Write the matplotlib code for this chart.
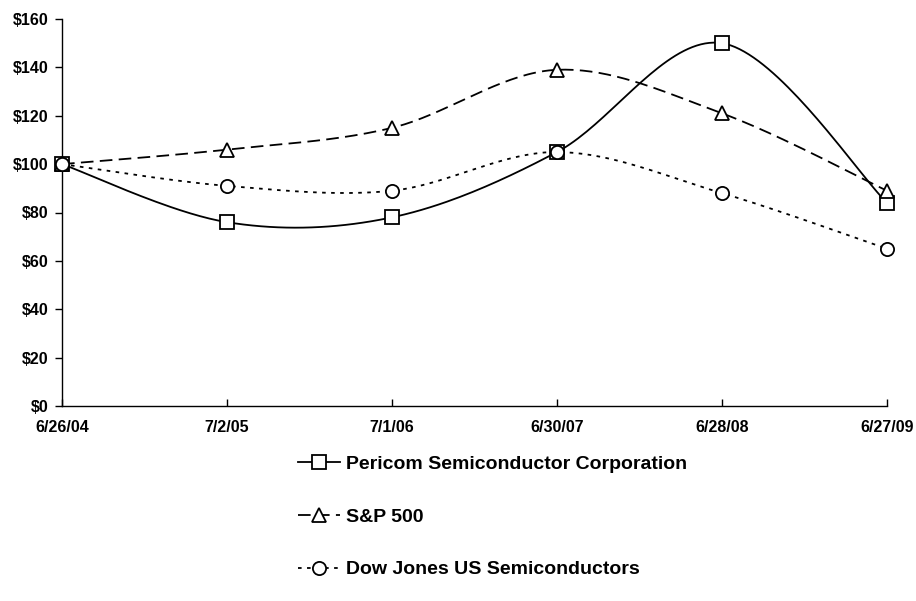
import numpy as np
import matplotlib
matplotlib.use('Agg')
import matplotlib.pyplot as plt

plt.rcParams['font.family'] = ['Liberation Sans', 'DejaVu Sans']
plt.rcParams['font.weight'] = 'bold'

dates = ['6/26/04', '7/2/05', '7/1/06', '6/30/07', '6/28/08', '6/27/09']
pericom = [100, 76, 78, 105, 150, 84]
sp500 = [100, 106, 115, 139, 121, 89]
dow_semi = [100, 91, 89, 105, 88, 65]

labels = ['Pericom Semiconductor Corporation', 'S&P 500', 'Dow Jones US Semiconductors']


def smooth(xs, ys, n=40):
    # Excel-like smoothed line: Catmull-Rom Bezier between points
    xs = np.asarray(xs, float)
    ys = np.asarray(ys, float)
    px = np.concatenate([[xs[0]], xs, [xs[-1]]])
    py = np.concatenate([[ys[0]], ys, [ys[-1]]])
    ox, oy = [], []
    t = np.linspace(0, 1, n)
    for i in range(1, len(px) - 2):
        p0 = np.array([px[i], py[i]])
        p3 = np.array([px[i + 1], py[i + 1]])
        c1 = p0 + (np.array([px[i + 1], py[i + 1]]) - np.array([px[i - 1], py[i - 1]])) / 6
        c2 = p3 - (np.array([px[i + 2], py[i + 2]]) - np.array([px[i], py[i]])) / 6
        b = ((1 - t) ** 3)[:, None] * p0 + (3 * (1 - t) ** 2 * t)[:, None] * c1 \
            + (3 * (1 - t) * t ** 2)[:, None] * c2 + (t ** 3)[:, None] * p3
        ox.extend(b[:, 0])
        oy.extend(b[:, 1])
    return np.array(ox), np.array(oy)


fig = plt.figure(figsize=(9.16, 6.01), dpi=100)
ax = fig.add_axes([62 / 916, 195 / 601, 825 / 916, 387 / 601])

x = np.arange(len(dates))
styles = [
    (pericom, 's', None),
    (sp500, '^', (0, (7, 3.5))),
    (dow_semi, 'o', (0, (2, 3))),
]

handles = []
for (vals, mk, dash), lab in zip(styles, labels):
    sx, sy = smooth(x, vals)
    ax.plot(sx, sy, color='black', linewidth=1.3,
            linestyle=dash if dash else '-', zorder=2, clip_on=False)
    ax.plot(x, vals, linestyle='none', marker=mk, markersize=9.5,
            markerfacecolor='white', markeredgecolor='black',
            markeredgewidth=1.3, zorder=3, clip_on=False)
    h, = ax.plot([], [], color='black', linewidth=1.3,
                 linestyle=dash if dash else '-', marker=mk, markersize=9.5,
                 markerfacecolor='white', markeredgecolor='black',
                 markeredgewidth=1.3, label=lab)
    handles.append(h)

ax.set_xlim(0, len(dates) - 1)
ax.set_ylim(0, 160)
ax.set_xticks(x)
ax.set_xticklabels(dates, fontsize=11.5, fontweight='bold')
ax.set_yticks(range(0, 161, 20))
ax.set_yticklabels(['$%d' % v for v in range(0, 161, 20)], fontsize=11.5, fontweight='bold')

ax.spines['top'].set_visible(False)
ax.spines['right'].set_visible(False)
ax.spines['left'].set_linewidth(1.0)
ax.spines['bottom'].set_linewidth(1.0)
ax.tick_params(axis='x', direction='in', length=5, width=1, pad=10)
ax.tick_params(axis='y', direction='out', length=5, width=1, pad=5)

fig.legend(handles=handles, loc='center left', bbox_to_anchor=(280 / 916, 1 - 517 / 601),
           frameon=False, labelspacing=1.8, handlelength=2.2,
           handletextpad=0.3, prop={'weight': 'bold', 'size': 14})

fig.savefig('out.png', dpi=100)
